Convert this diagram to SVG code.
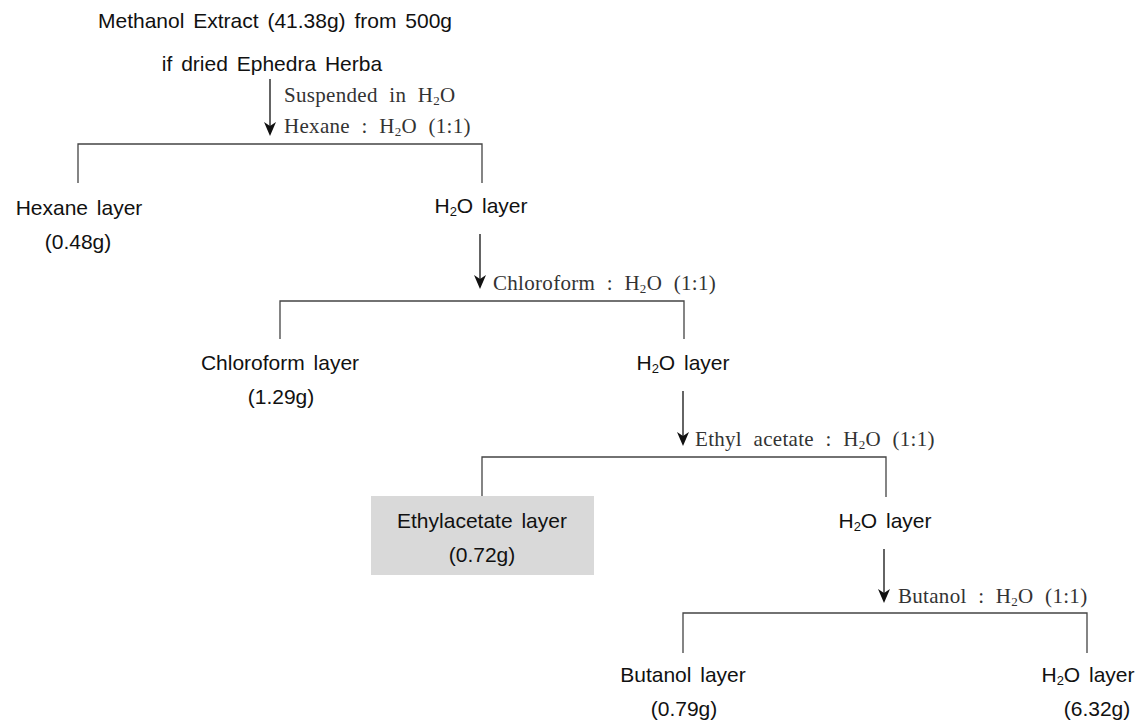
<svg xmlns="http://www.w3.org/2000/svg" width="1142" height="720" viewBox="0 0 1142 720">
<style>
.t{font-family:"Liberation Sans",Arial,sans-serif;font-size:21px;fill:#111;text-anchor:middle;word-spacing:3px}
.l{font-family:"Liberation Serif","Times New Roman",serif;font-size:21px;fill:#333;word-spacing:6px;letter-spacing:0.3px}
.ln{fill:none;stroke:#444;stroke-width:1.3}
.ar{fill:none;stroke:#111;stroke-width:1.3}
.hd{fill:#111;stroke:none}
.s{font-size:13px}
</style>
<defs>
<path id="head" class="hd" d="M0,0 L-6,-14 L0,-10 L6,-14 Z"/>
</defs>
<rect width="1142" height="720" fill="#fff"/>
<g id="connectors">
<line class="ar" x1="270" y1="79" x2="270" y2="133"/><use href="#head" x="270" y="136"/>
<path class="ln" d="M78,183 V144 H482 V183"/>
<line class="ar" x1="480" y1="234" x2="480" y2="286"/><use href="#head" x="480" y="289"/>
<path class="ln" d="M280,339 V301 H684 V339"/>
<line class="ar" x1="683" y1="391" x2="683" y2="443"/><use href="#head" x="683" y="446"/>
<path class="ln" d="M482,497 V457 H886 V497"/>
<line class="ar" x1="884" y1="549" x2="884" y2="600"/><use href="#head" x="884" y="603"/>
<path class="ln" d="M683,653 V613 H1087 V653"/>
</g>
<g id="labels">
<text class="l" x="284" y="102">Suspended in H<tspan class="s" dy="3">2</tspan><tspan dy="-3">O</tspan></text>
<text class="l" x="284" y="133">Hexane : H<tspan class="s" dy="3">2</tspan><tspan dy="-3">O (1:1)</tspan></text>
<text class="l" x="493" y="290">Chloroform : H<tspan class="s" dy="3">2</tspan><tspan dy="-3">O (1:1)</tspan></text>
<text class="l" x="695" y="446">Ethyl acetate : H<tspan class="s" dy="3">2</tspan><tspan dy="-3">O (1:1)</tspan></text>
<text class="l" x="898" y="603">Butanol : H<tspan class="s" dy="3">2</tspan><tspan dy="-3">O (1:1)</tspan></text>
</g>
<g id="start">
<text class="t" x="275" y="28">Methanol Extract (41.38g) from 500g</text>
<text class="t" x="272" y="71">if dried Ephedra Herba</text>
</g>
<g id="hexane">
<text class="t" x="79" y="215">Hexane layer</text>
<text class="t" x="78" y="249">(0.48g)</text>
</g>
<g id="h2o1">
<text class="t" x="481" y="213">H<tspan class="s" dy="3">2</tspan><tspan dy="-3">O layer</tspan></text>
</g>
<g id="chloroform">
<text class="t" x="280" y="370">Chloroform layer</text>
<text class="t" x="281" y="404">(1.29g)</text>
</g>
<g id="h2o2">
<text class="t" x="683" y="370">H<tspan class="s" dy="3">2</tspan><tspan dy="-3">O layer</tspan></text>
</g>
<g id="ethylacetate">
<rect x="371" y="496" width="223" height="79" fill="#d9d9d9"/>
<text class="t" x="482" y="528">Ethylacetate layer</text>
<text class="t" x="482" y="562">(0.72g)</text>
</g>
<g id="h2o3">
<text class="t" x="885" y="528">H<tspan class="s" dy="3">2</tspan><tspan dy="-3">O layer</tspan></text>
</g>
<g id="butanol">
<text class="t" x="683" y="682">Butanol layer</text>
<text class="t" x="684" y="716">(0.79g)</text>
</g>
<g id="h2o4">
<text class="t" x="1088" y="682">H<tspan class="s" dy="3">2</tspan><tspan dy="-3">O layer</tspan></text>
<text class="t" x="1097" y="716">(6.32g)</text>
</g>
</svg>
